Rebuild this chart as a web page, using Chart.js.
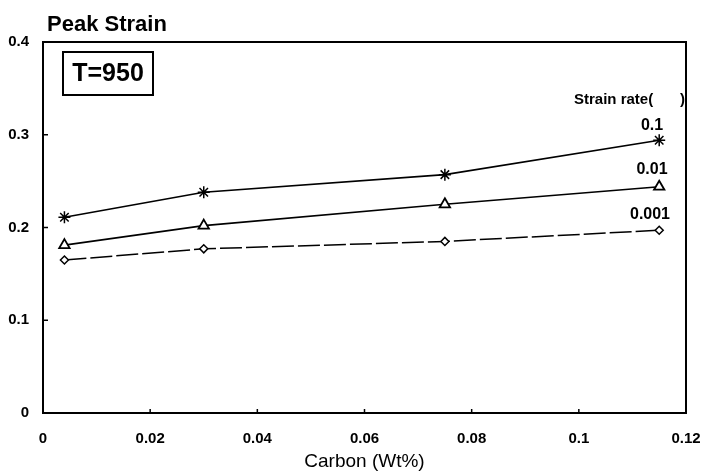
<!DOCTYPE html>
<html>
<head>
<meta charset="utf-8">
<script src="https://cdn.jsdelivr.net/npm/chart.js@4/dist/chart.umd.min.js"></script>
<style>
html,body{margin:0;padding:0;background:#fff;}
#wrap{width:702px;height:473px;position:relative;}
</style>
</head>
<body>
<div id="wrap"><canvas id="c" width="702" height="473"></canvas></div>
<script>
const carbon = [0.004, 0.03, 0.075, 0.115];
const rate01 = [0.211, 0.238, 0.257, 0.294];
const rate001 = [0.181, 0.202, 0.225, 0.244];
const rate0001 = [0.165, 0.177, 0.185, 0.197];
const seriesLabels = ["0.1", "0.01", "0.001"];
const xTicks = [0, 0.02, 0.04, 0.06, 0.08, 0.1, 0.12];
const yTicks = [0, 0.1, 0.2, 0.3, 0.4];

const toPts = ys => carbon.map((x, i) => ({x: x, y: ys[i]}));
const fmt = v => String(Number(Number(v).toFixed(4)));
const FONT = "'Liberation Sans', Arial, sans-serif";

const frame = {
  id: 'frame',
  afterDraw(chart) {
    const {ctx, chartArea: a, scales} = chart;
    ctx.save();
    ctx.strokeStyle = '#000';
    ctx.lineWidth = 2;
    ctx.beginPath();
    ctx.moveTo(a.left, a.top); ctx.lineTo(a.right, a.top);
    ctx.lineTo(a.right, a.bottom); ctx.lineTo(a.left, a.bottom);
    ctx.closePath(); ctx.stroke();
    // inward ticks
    ctx.lineWidth = 1.5;
    yTicks.forEach(v => {
      const y = scales.y.getPixelForValue(v);
      ctx.beginPath(); ctx.moveTo(a.left, y); ctx.lineTo(a.left + 5, y); ctx.stroke();
    });
    xTicks.forEach(v => {
      const x = scales.x.getPixelForValue(v);
      ctx.beginPath(); ctx.moveTo(x, a.bottom); ctx.lineTo(x, a.bottom - 4); ctx.stroke();
    });
    // y title
    ctx.fillStyle = '#000';
    ctx.textBaseline = 'alphabetic';
    ctx.textAlign = 'left';
    ctx.font = 'bold 22px ' + FONT;
    ctx.fillText('Peak Strain', 47, 31);
    // T=950 box
    ctx.lineWidth = 2;
    ctx.strokeRect(a.left + 20, a.top + 10, 90, 43);
    ctx.font = 'bold 25px ' + FONT;
    ctx.textAlign = 'center';
    ctx.textBaseline = 'middle';
    ctx.fillText('T=950', a.left + 65, a.top + 32);
    // legend-like labels
    ctx.font = 'bold 15px ' + FONT;
    ctx.textAlign = 'left';
    ctx.fillText('Strain rate(', 574, 100);
    ctx.fillText(')', 680, 100);
    ctx.font = 'bold 16px ' + FONT;
    ctx.textAlign = 'center';
    ctx.fillText(seriesLabels[0], 652, 126);
    ctx.fillText(seriesLabels[1], 652, 170);
    ctx.fillText(seriesLabels[2], 650, 215);
    ctx.restore();
  }
};

new Chart(document.getElementById('c'), {
  type: 'line',
  data: {
    datasets: [
      {label: seriesLabels[0], data: toPts(rate01), borderColor: '#000', borderWidth: 1.6,
       pointStyle: 'star', pointRadius: 6, pointBorderWidth: 1.5, pointBorderColor: '#000', pointBackgroundColor: '#fff'},
      {label: seriesLabels[1], data: toPts(rate001), borderColor: '#000', borderWidth: 1.6,
       pointStyle: 'triangle', pointRadius: 6, pointBorderWidth: 1.8, pointBorderColor: '#000', pointBackgroundColor: '#fff'},
      {label: seriesLabels[2], data: toPts(rate0001), borderColor: '#000', borderWidth: 1.5, borderDash: [22, 4],
       pointStyle: 'rectRot', pointRadius: 4, pointBorderWidth: 1.5, pointBorderColor: '#000', pointBackgroundColor: '#fff'}
    ]
  },
  options: {
    responsive: false,
    animation: false,
    devicePixelRatio: 1,
    layout: {padding: {top: 42, right: 16, left: 0, bottom: 0}},
    plugins: {legend: {display: false}, tooltip: {enabled: false}, title: {display: false}},
    scales: {
      x: {
        type: 'linear', min: 0, max: 0.12,
        afterBuildTicks: s => { s.ticks = xTicks.map(v => ({value: v})); },
        afterFit: s => { s.height = 60; s.paddingLeft = 0; s.paddingRight = 0; },
        grid: {display: false},
        border: {display: false},
        ticks: {color: '#000', padding: 9, font: {family: FONT, size: 15, weight: 'bold'}, maxRotation: 0,
                callback: v => fmt(v)},
        title: {display: true, text: 'Carbon (Wt%)', color: '#000', padding: {top: 4, bottom: 0},
                font: {family: FONT, size: 19}}
      },
      y: {
        type: 'linear', min: 0, max: 0.4,
        afterBuildTicks: s => { s.ticks = yTicks.map(v => ({value: v})); },
        afterFit: s => { s.width = 43; s.paddingTop = 0; s.paddingBottom = 0; },
        grid: {display: false},
        border: {display: false},
        ticks: {color: '#000', padding: 6, font: {family: FONT, size: 15, weight: 'bold'},
                callback: v => fmt(v)}
      }
    }
  },
  plugins: [frame]
});
</script>
</body>
</html>
